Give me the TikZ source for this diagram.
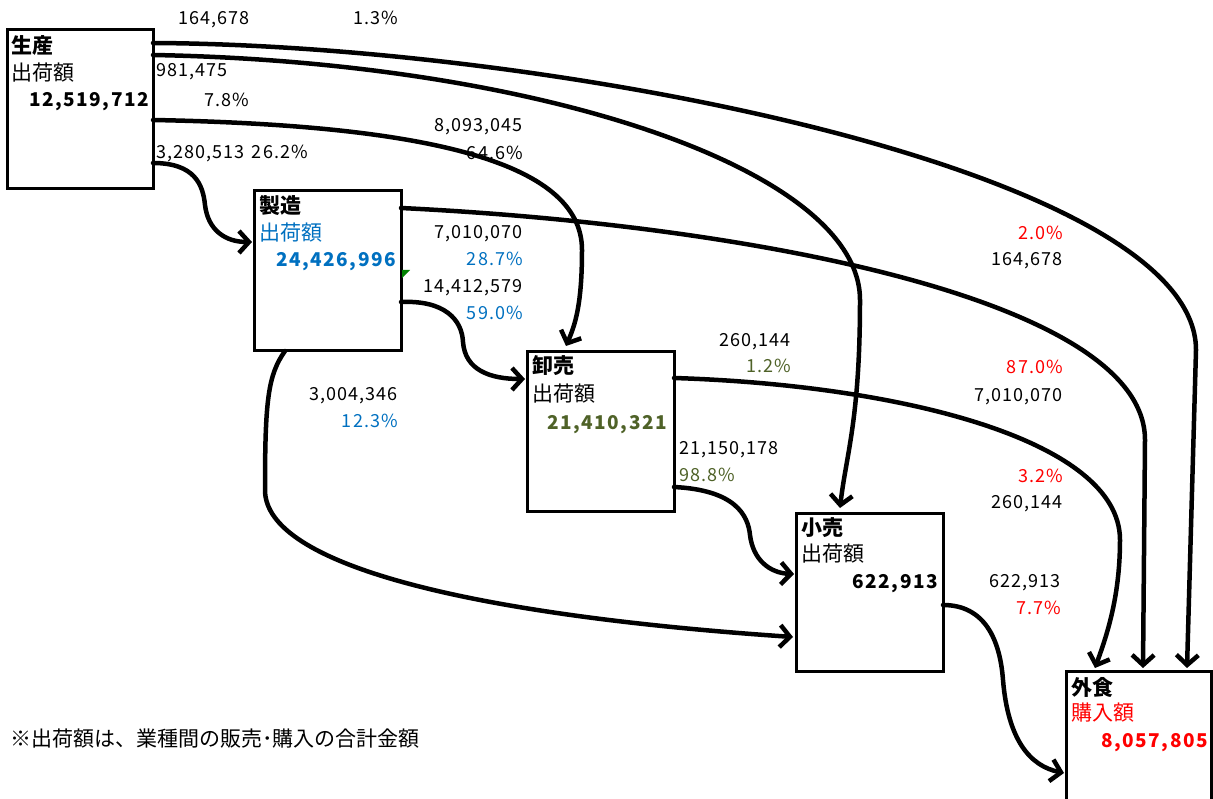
\documentclass[tikz,border=0pt]{standalone}
\usepackage{fontspec}
\setmainfont{Noto Sans CJK JP}
\newfontfamily\numf[LetterSpace=6]{Noto Sans CJK JP}
\newfontfamily\numbf[LetterSpace=8]{Noto Sans CJK JP}
\usetikzlibrary{arrows.meta,calc}
\definecolor{jblue}{RGB}{0,112,192}
\definecolor{jred}{RGB}{255,0,0}
\definecolor{jolive}{RGB}{79,98,40}
\definecolor{jgreen}{RGB}{0,128,0}
\begin{document}
\begin{tikzpicture}[x=1pt,y=-1pt,
  box/.style={draw,line width=3pt,rectangle,inner sep=0pt,outer sep=0pt,anchor=north west},
  conn/.style={line width=4.5pt,line cap=round,line join=round,-{Straight Barb[length=10pt,width=22pt,line width=4.5pt]}},
  ttl/.style={inner sep=0pt,anchor=base west,font=\fontsize{21}{24}\selectfont\bfseries},
  kan/.style={inner sep=0pt,anchor=base west,font=\fontsize{21}{24}\selectfont},
  lbl/.style={inner sep=0pt,font=\numf\fontsize{18}{20}\selectfont},
  lbr/.style={lbl,anchor=base east},
  lbw/.style={lbl,anchor=base west},
  big/.style={inner sep=0pt,anchor=base east,font=\numbf\fontsize{19}{22}\selectfont\bfseries}]
\useasboundingbox (0,0) rectangle (1213,799);

% boxes
\node[box,minimum width=146pt,minimum height=159pt] (sei) at (7,30) {};
\node[box,minimum width=147pt,minimum height=160pt] (seizo) at (254,191) {};
\node[box,minimum width=147pt,minimum height=159pt] (oroshi) at (527,352) {};
\node[box,minimum width=147pt,minimum height=158pt] (kouri) at (796,513) {};
\node[box,minimum width=145pt,minimum height=170pt] (gai) at (1066,671) {};

% box texts
\node[ttl] (t1) at (11,53.5) {生産};
\node[kan] (k1) at (11,80.5) {出荷額};
\node[big] (n1) at (149,107) {12,519,712};

\node[ttl] (t2) at (259,213.5) {製造};
\node[kan,text=jblue] (k2) at (259,240.5) {出荷額};
\node[big,text=jblue] (n2) at (396,267) {24,426,996};

\node[ttl] (t3) at (532,373.5) {卸売};
\node[kan] (k3) at (532,401.5) {出荷額};
\node[big,text=jolive] (n3) at (667,429) {21,410,321};

\node[ttl] (t4) at (801,535.5) {小売};
\node[kan] (k4) at (801,561.5) {出荷額};
\node[big] (n4) at (938,588) {622,913};

\node[ttl] (t5) at (1071,695.5) {外食};
\node[kan,text=jred] (k5) at (1071,720.5) {購入額};
\node[big,text=jred] (n5) at (1208,747) {8,057,805};

% green marker
\fill[jgreen] (402,270) -- (410,270) -- (402,278) -- cycle;

% flow labels
\node[lbw] (a1) at (178,25) {164,678};
\node[lbr] (a2) at (398,25) {1.3\%};
\node[lbw] (b1) at (156,77) {981,475};
\node[lbr] (b2) at (249,107) {7.8\%};
\node[lbw] (c1) at (156,159) {3,280,513};
\node[lbr] (c2) at (308,159) {26.2\%};
\node[lbr] (d1) at (523,132) {8,093,045};
\node[lbr] (d2) at (523,160) {64.6\%};
\node[lbr] (e1) at (523,239) {7,010,070};
\node[lbr,text=jblue] (e2) at (523,266) {28.7\%};
\node[lbr] (f1) at (523,293) {14,412,579};
\node[lbr,text=jblue] (f2) at (523,320) {59.0\%};
\node[lbr] (g1) at (791,347) {260,144};
\node[lbr,text=jolive] (g2) at (791,373) {1.2\%};
\node[lbr] (h1) at (398,401) {3,004,346};
\node[lbr,text=jblue] (h2) at (398,428) {12.3\%};
\node[lbw] (i1) at (679,454) {21,150,178};
\node[lbw,text=jolive] (i2) at (679,481) {98.8\%};
\node[lbr,text=jred] (j1) at (1063,240) {2.0\%};
\node[lbr] (j2) at (1063,266) {164,678};
\node[lbr,text=jred] (k1b) at (1063,374) {87.0\%};
\node[lbr] (k2b) at (1063,402) {7,010,070};
\node[lbr,text=jred] (l1) at (1063,482) {3.2\%};
\node[lbr] (l2) at (1063,508) {260,144};
\node[lbr] (m1) at (1061,587) {622,913};
\node[lbr,text=jred] (m2) at (1061,614) {7.7\%};

\node[kan] (note) at (10,746.5) {※出荷額は、業種間の販売･購入の合計金額};

% connectors
\draw[conn] ($(sei.north east)+(0,13)$) .. controls (550,45) and (1196,170) .. (1196,350) -- ($(gai.north west)+(121,-3)$);
\draw[conn] ($(sei.north east)+(0,25)$) .. controls (540,62) and (860,170) .. (860,300) .. controls (860,420) and (846,455) .. ($(kouri.north west)+(44,-5)$);
\draw[conn] ($(sei.north east)+(0,90)$) .. controls (420,125) and (582,160) .. (582,250) .. controls (582,305) and (575,325) .. ($(oroshi.north west)+(39,-6)$);
\draw[conn] ($(sei.north east)+(0,133)$) .. controls (195,163) and (203,185) .. (205,205) .. controls (208,230) and (225,242) .. ($(seizo.north west)+(-2,51)$);
\draw[conn] ($(seizo.north east)+(0,17)$) .. controls (750,225) and (1145,300) .. (1145,440) -- ($(gai.north west)+(77,-3)$);
\draw[conn] ($(seizo.north east)+(0,111)$) .. controls (445,300) and (462,320) .. (463,342) .. controls (465,370) and (490,379) .. ($(oroshi.north west)+(-2,27)$);
\draw[conn] ($(seizo.south west)+(31,0)$) .. controls (268,375) and (265,400) .. (265,490) .. controls (265,565) and (470,615) .. ($(kouri.north west)+(-3,124)$);
\draw[conn] ($(oroshi.north east)+(0,26)$) .. controls (900,385) and (1120,440) .. (1120,540) .. controls (1120,600) and (1105,640) .. ($(gai.north west)+(29,-3)$);
\draw[conn] ($(oroshi.north east)+(0,135)$) .. controls (735,490) and (748,515) .. (750,535) .. controls (753,560) and (770,573) .. ($(kouri.north west)+(-2,61)$);
\draw[conn] ($(kouri.north east)+(0,92)$) .. controls (985,605) and (1000,640) .. (1003,680) .. controls (1008,740) and (1030,766) .. ($(gai.north west)+(-2,102)$);
\end{tikzpicture}
\end{document}
